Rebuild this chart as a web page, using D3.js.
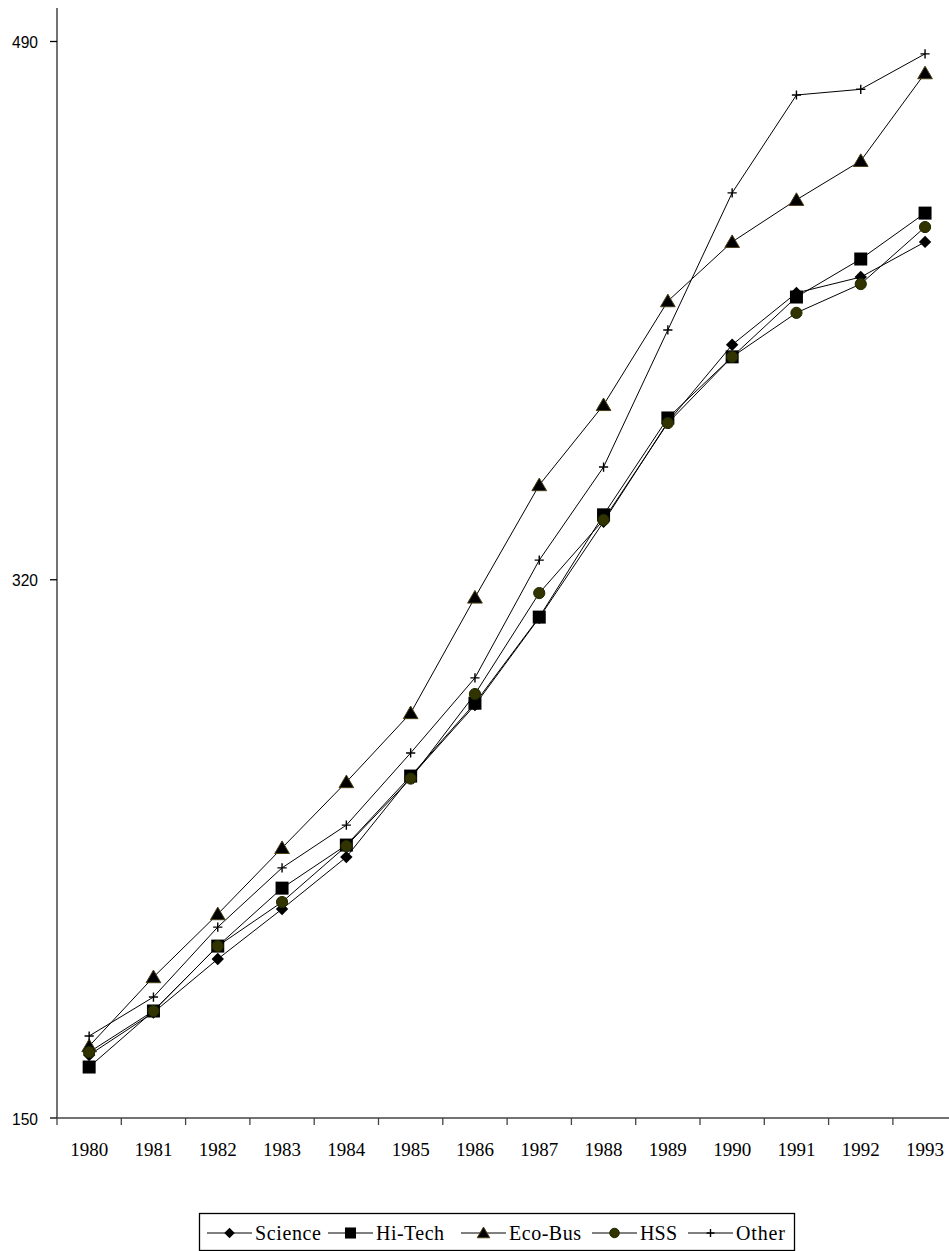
<!DOCTYPE html>
<html>
<head>
<meta charset="utf-8">
<script src="https://cdn.jsdelivr.net/npm/d3@7"></script>
<style>
  body { margin: 0; background: #fff; }
  svg { display: block; }
</style>
</head>
<body>
<script>
// data
var years = ["1980", "1981", "1982", "1983", "1984", "1985", "1986", "1987", "1988", "1989", "1990", "1991", "1992", "1993"];
var science = [169.9, 183.3, 200.2, 216.0, 232.4, 257.7, 280.4, 308.0, 338.3, 369.8, 394.2, 410.6, 415.6, 426.7];
var hiTech  = [166.1, 183.8, 204.3, 222.6, 236.2, 258.0, 281.0, 308.2, 340.5, 371.1, 390.4, 409.3, 421.3, 435.8];
var ecoBus  = [172.7, 194.5, 214.4, 235.3, 256.1, 277.9, 314.4, 349.9, 375.2, 408.0, 426.7, 440.0, 452.3, 480.0];
var hss     = [170.8, 183.8, 204.3, 218.2, 235.9, 257.2, 283.9, 315.8, 338.9, 369.5, 390.4, 404.3, 413.4, 431.4];
var other   = [175.9, 188.2, 210.3, 229.0, 242.5, 265.3, 289.0, 326.2, 355.6, 398.9, 442.2, 473.1, 474.9, 486.1];
var yTicks = [150, 320, 490];

var series = [
    {name: "Science", values: science, marker: "diamond"},
    {name: "Hi-Tech", values: hiTech, marker: "square"},
    {name: "Eco-Bus", values: ecoBus, marker: "triangle"},
    {name: "HSS", values: hss, marker: "circle"},
    {name: "Other", values: other, marker: "plus"}
];

var W = 949, H = 1251;
var plotLeft = 57, plotBottom = 1118, plotTop = 41.5, axisTop = 8;

var svg = d3.select("body").append("svg")
    .attr("width", W)
    .attr("height", H);

var x = d3.scaleBand().domain(years).range([plotLeft, plotLeft + 14 * 64.3]);
var y = d3.scaleLinear().domain([150, 490]).range([plotBottom, plotTop]);

function marker(g, type, s) {
    if (type == "diamond") {
        g.append("path").attr("d", "M0," + (-s) + "L" + s + ",0L0," + s + "L" + (-s) + ",0Z")
            .attr("fill", "#000");
    } else if (type == "square") {
        g.append("rect").attr("x", -s).attr("y", -s).attr("width", 2 * s).attr("height", 2 * s)
            .attr("fill", "#000");
    } else if (type == "triangle") {
        g.append("path").attr("d", "M0," + (-s) + "L" + (s * 1.05) + "," + (s * 0.8) + "L" + (-s * 1.05) + "," + (s * 0.8) + "Z")
            .attr("fill", "#000").attr("stroke", "#4a3e14").attr("stroke-width", 1);
    } else if (type == "circle") {
        g.append("circle").attr("r", s)
            .attr("fill", "#333300").attr("stroke", "#1a2a00").attr("stroke-width", 1);
    } else {
        g.append("path").attr("d", "M" + (-s) + ",0H" + s + "M0," + (-s) + "V" + s)
            .attr("stroke", "#000").attr("stroke-width", 1.4);
    }
}

var sizes = {diamond: 6.2, square: 6.5, triangle: 7, circle: 5.6, plus: 4.6};

// axes
var axisColor = "#444";
svg.append("line")
    .attr("x1", plotLeft).attr("x2", plotLeft)
    .attr("y1", axisTop).attr("y2", plotBottom)
    .attr("stroke", axisColor).attr("stroke-width", 1.5);
svg.append("line")
    .attr("x1", plotLeft).attr("x2", W)
    .attr("y1", plotBottom).attr("y2", plotBottom)
    .attr("stroke", axisColor).attr("stroke-width", 1.5);

svg.selectAll(".ytick")
    .data(yTicks)
    .enter().append("line")
    .attr("x1", plotLeft - 7).attr("x2", plotLeft)
    .attr("y1", function(d) { return y(d); })
    .attr("y2", function(d) { return y(d); })
    .attr("stroke", "#000").attr("stroke-width", 1.3);

svg.selectAll(".ylabel")
    .data(yTicks)
    .enter().append("text")
    .attr("x", 38)
    .attr("y", function(d) { return y(d) + 6.5; })
    .attr("text-anchor", "end")
    .attr("font-family", "Liberation Sans, Arial, sans-serif")
    .attr("font-size", 17)
    .attr("textLength", 26)
    .attr("lengthAdjust", "spacingAndGlyphs")
    .attr("fill", "#000")
    .text(function(d) { return d; });

svg.selectAll(".xtick")
    .data(years)
    .enter().append("line")
    .attr("x1", function(d) { return x(d); })
    .attr("x2", function(d) { return x(d); })
    .attr("y1", plotBottom).attr("y2", plotBottom + 7)
    .attr("stroke", axisColor).attr("stroke-width", 1.3);

svg.selectAll(".xlabel")
    .data(years)
    .enter().append("text")
    .attr("x", function(d) { return x(d) + x.bandwidth() / 2; })
    .attr("y", 1156)
    .attr("text-anchor", "middle")
    .attr("font-family", "Liberation Serif, Times New Roman, serif")
    .attr("font-size", 19)
    .attr("fill", "#000")
    .text(function(d) { return d; });

// lines + markers
var line = d3.line()
    .x(function(d, i) { return x(years[i]) + x.bandwidth() / 2; })
    .y(function(d) { return y(d); });

series.forEach(function(s) {
    svg.append("path")
        .attr("d", line(s.values))
        .attr("fill", "none")
        .attr("stroke", "#000")
        .attr("stroke-width", 1);
});

series.forEach(function(s) {
    s.values.forEach(function(v, i) {
        var g = svg.append("g")
            .attr("transform", "translate(" + (x(years[i]) + x.bandwidth() / 2) + "," + y(v) + ")");
        marker(g, s.marker, sizes[s.marker]);
    });
});

// legend
var legend = svg.append("g");
legend.append("rect")
    .attr("x", 199.5).attr("y", 1213.5)
    .attr("width", 595).attr("height", 37)
    .attr("fill", "#fff").attr("stroke", "#000").attr("stroke-width", 1.3);

var legendX = [207, 328, 461, 592, 688];
var legendW = [66, 68, 72, 37, 49];
series.forEach(function(s, i) {
    var lx = legendX[i], ly = 1233;
    legend.append("line")
        .attr("x1", lx).attr("x2", lx + 45)
        .attr("y1", ly).attr("y2", ly)
        .attr("stroke", "#000").attr("stroke-width", 1);
    var g = legend.append("g").attr("transform", "translate(" + (lx + 22.5) + "," + ly + ")");
    marker(g, s.marker, sizes[s.marker] * 0.85);
    legend.append("text")
        .attr("x", lx + 48)
        .attr("y", ly + 7)
        .attr("font-family", "Liberation Serif, Times New Roman, serif")
        .attr("font-size", 20)
        .attr("textLength", legendW[i])
        .attr("lengthAdjust", "spacing")
        .attr("fill", "#000")
        .text(s.name);
});
</script>
</body>
</html>
